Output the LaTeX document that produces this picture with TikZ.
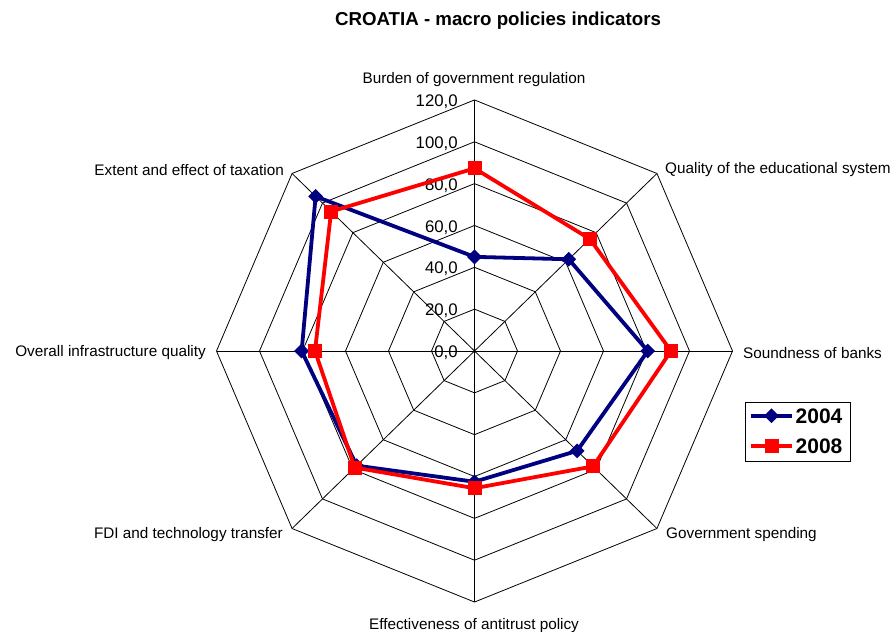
\documentclass[tikz,border=0pt]{standalone}
\usepackage{fontspec}
\setmainfont{Liberation Sans}
\usetikzlibrary{shapes.geometric,calc}
\definecolor{navyb}{RGB}{0,0,128}
\begin{document}
\begin{tikzpicture}[
  lbl/.style={font=\fontsize{15.3}{18}\selectfont, inner sep=0pt},
  tick/.style={font=\fontsize{16.8}{20}\selectfont, inner sep=0pt, anchor=east},
  gridline/.style={black, line width=0.8pt},
  s04/.style={navyb, line width=3.8pt, line join=round},
  s08/.style={red, line width=3.8pt, line join=round},
  dia/.style={diamond, fill=navyb, inner sep=0pt, minimum size=15pt},
  sq/.style={rectangle, fill=red, inner sep=0pt, minimum size=14pt},
  legtxt/.style={font=\bfseries\fontsize{21}{25}\selectfont, inner sep=0pt, anchor=west},
]
\useasboundingbox (0pt,0pt) rectangle (892pt,632pt);
\node[font=\bfseries\fontsize{18.7}{22}\selectfont, inner sep=0pt] (title) at (498pt,611pt) {CROATIA - macro policies indicators};

\begin{scope}[shift={(474.5pt,281pt)}, x=2.15pt, y=2.092pt]
  \coordinate (c) at (0,0);
  \foreach \r in {20,40,...,120}{
    \draw[gridline] (90:\r) -- (45:\r) -- (0:\r) -- (-45:\r) -- (-90:\r) -- (-135:\r) -- (180:\r) -- (135:\r) -- cycle;
  }
  \foreach \a [count=\i from 0] in {90,45,0,-45,-90,-135,180,135}{
    \coordinate (v\i) at (\a:120);
    \draw[gridline] (c) -- (v\i);
  }
  \foreach \v in {0,20,...,120}{
    \node[tick] (t\v) at (-7.7,\v-0.9) {\v,0};
  }
  % data 2004
  \foreach \a/\v [count=\i from 0] in {90/45,45/62,0/80.6,-45/67.5,-90/62.5,-135/77.5,180/80.4,135/104.5}{
    \coordinate (b\i) at (\a:\v);
  }
  % data 2008
  \foreach \a/\v [count=\i from 0] in {90/87.3,45/75.8,0/91.4,-45/78,-90/65.6,-135/78.8,180/74.2,135/94.3}{
    \coordinate (r\i) at (\a:\v);
  }
\end{scope}

\draw[s04] (b0) -- (b1) -- (b2) -- (b3) -- (b4) -- (b5) -- (b6) -- (b7) -- cycle;
\foreach \i in {0,...,7}{ \node[dia] (mb\i) at (b\i) {}; }
\draw[s08] (r0) -- (r1) -- (r2) -- (r3) -- (r4) -- (r5) -- (r6) -- (r7) -- cycle;
\foreach \i in {0,...,7}{ \node[sq] (mr\i) at (r\i) {}; }

% category labels
\node[lbl, anchor=center] (a0) at (474pt,552.5pt) {Burden of government regulation};
\node[lbl, anchor=west] (a1) at (665pt,462pt) {Quality of the educational system};
\node[lbl, anchor=west] (a2) at (743pt,279pt) {Soundness of banks};
\node[lbl, anchor=west] (a3) at (666pt,97pt) {Government spending};
\node[lbl, anchor=center] (a4) at (474pt,6pt) {Effectiveness of antitrust policy};
\node[lbl, anchor=east] (a5) at (283pt,97pt) {FDI and technology transfer};
\node[lbl, anchor=east] (a6) at (206pt,279pt) {Overall infrastructure quality};
\node[lbl, anchor=east] (a7) at (284pt,462pt) {Extent and effect of taxation};

% legend
\node[draw, line width=0.8pt, fill=white, minimum width=105pt, minimum height=59.4pt, inner sep=0pt] (leg) at (798.2pt,200pt) {};
\coordinate (l1a) at (751pt,216.3pt);
\coordinate (l1b) at (792pt,216.3pt);
\coordinate (l2a) at (751pt,186.3pt);
\coordinate (l2b) at (792pt,186.3pt);
\draw[s04] (l1a) -- (l1b);
\node[dia] (lm1) at ($(l1a)!0.5!(l1b)$) {};
\draw[s08] (l2a) -- (l2b);
\node[sq] (lm2) at ($(l2a)!0.5!(l2b)$) {};
\node[legtxt] (lt1) at (795.5pt,215.5pt) {2004};
\node[legtxt] (lt2) at (795.5pt,185.5pt) {2008};
\end{tikzpicture}
\end{document}
